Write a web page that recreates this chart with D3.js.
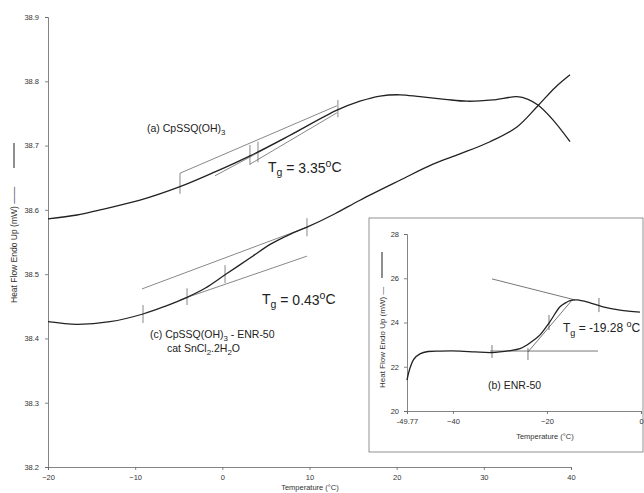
<!DOCTYPE html>
<html>
<head>
<meta charset="utf-8">
<script src="https://cdn.jsdelivr.net/npm/d3@7"></script>
<style>
  body { margin: 0; background: #fff; }
  svg { font-family: "Liberation Sans", Arial, sans-serif; }
  .axis path, .axis line { stroke: #666; stroke-width: 0.8; }
  .axis text { font-size: 7.5px; fill: #333; }
</style>
</head>
<body>
<div id="chart"></div>
<script>
// main chart ticks
const mainXTicks = [-20, -10, 0, 10, 20, 30, 40]
const mainYTicks = [38.2, 38.3, 38.4, 38.5, 38.6, 38.7, 38.8, 38.9]

// (a) CpSSQ(OH)3 trace
const curveA_T = [-20, -16.67, -14.03, -9.45, -4.86, -0.84, 3.17, 7.76, 13.15, 15.79, 18.09, 20.38, 22.68, 25.54, 28.07, 31.05, 33.80, 35.07, 36.21, 37.93, 39.89]
const curveA_V = [38.586, 38.592, 38.600, 38.615, 38.636, 38.659, 38.684, 38.716, 38.755, 38.769, 38.777, 38.779, 38.776, 38.772, 38.769, 38.771, 38.776, 38.772, 38.763, 38.740, 38.706]

// (c) CpSSQ(OH)3 - ENR-50 trace
const curveC_T = [-20, -16.67, -12.89, -9.10, -6.58, -4.05, -1.99, 0.31, 3.17, 5.58, 7.76, 9.71, 12.92, 15.79, 20.38, 24.17, 27.26, 30.71, 33.80, 36.21, 38.16, 39.89]
const curveC_V = [38.426, 38.422, 38.426, 38.438, 38.450, 38.464, 38.478, 38.499, 38.525, 38.547, 38.562, 38.573, 38.594, 38.615, 38.646, 38.671, 38.687, 38.706, 38.729, 38.762, 38.790, 38.810]

// construction lines [T1, V1, T2, V2]
const tangentsA = [[-4.86, 38.657, 13.15, 38.762], [-0.84, 38.653, 8.91, 38.724], [3.17, 38.671, 13.15, 38.751]]
const ticksA = [[-4.86, 38.657, -4.86, 38.625], [3.17, 38.701, 3.17, 38.670], [4.09, 38.706, 4.09, 38.674], [13.26, 38.771, 13.26, 38.744]]
const tangentsC = [[-9.22, 38.477, 9.71, 38.573], [-4.86, 38.460, 9.71, 38.528]]
const ticksC = [[-9.10, 38.452, -9.10, 38.424], [-4.05, 38.478, -4.05, 38.452], [0.31, 38.514, 0.31, 38.486], [9.71, 38.587, 9.71, 38.559]]

// inset (b) ENR-50
const insetXTicks = [-49.77, -40, -20, 0]
const insetYTicks = [20, 22, 24, 26, 28]
const curveB_T = [-49.77, -49.13, -48.28, -47.01, -45.30, -42.75, -38.50, -35.31, -31.69, -27.86, -25.74, -24.25, -22.76, -21.48, -19.36, -17.23, -15.95, -15.10, -13.61, -10.85, -8.09, -4.47, -0.22]
const curveB_V = [21.40, 21.94, 22.35, 22.58, 22.69, 22.71, 22.71, 22.67, 22.64, 22.73, 22.82, 22.98, 23.21, 23.44, 24.04, 24.71, 24.90, 24.99, 25.02, 24.89, 24.71, 24.56, 24.47]
const tangentsB = [[-31.69, 25.97, -14.04, 25.02], [-32.12, 22.71, -9.15, 22.71], [-24.04, 22.67, -14.47, 25.06]]
const ticksB = [[-31.69, 22.98, -31.69, 22.40], [-24.04, 22.85, -24.04, 22.31], [-19.57, 24.34, -19.57, 23.66], [-8.94, 25.11, -8.94, 24.47]]

const W = 644, H = 493
const svg = d3.select("#chart").append("svg")
  .attr("width", W).attr("height", H)

// ---------- main chart ----------
const x = d3.scaleLinear().domain([-20, 40]).range([48, 571])
const y = d3.scaleLinear().domain([38.2, 38.9]).range([467, 17])

svg.append("g").attr("class", "axis")
  .attr("transform", "translate(0,467)")
  .call(d3.axisBottom(x).tickValues(mainXTicks).tickSize(3).tickPadding(5).tickFormat(d3.format("d")))
svg.append("g").attr("class", "axis")
  .attr("transform", "translate(48,0)")
  .call(d3.axisLeft(y).tickValues(mainYTicks).tickSize(3).tickPadding(6).tickFormat(d3.format(".1f")))
svg.selectAll(".axis .domain").attr("stroke", "#666")

svg.append("text").attr("x", 310).attr("y", 490)
  .attr("text-anchor", "middle").style("font-size", "7.5px").style("fill", "#333")
  .text("Temperature (°C)")
svg.append("text").attr("transform", "translate(17,303) rotate(-90)")
  .attr("text-anchor", "start").style("font-size", "8.5px").style("fill", "#333")
  .text("Heat Flow Endo Up (mW) ——")
svg.append("line").attr("x1", 14).attr("x2", 14).attr("y1", 143).attr("y2", 168)
  .attr("stroke", "#444").attr("stroke-width", 1.2)

const lineMain = d3.line().x(d => x(d[0])).y(d => y(d[1])).curve(d3.curveCatmullRom)

function drawSegs(g, segs, sx, sy, color, w) {
  g.selectAll(null).data(segs).enter().append("line")
    .attr("x1", d => sx(d[0])).attr("y1", d => sy(d[1]))
    .attr("x2", d => sx(d[2])).attr("y2", d => sy(d[3]))
    .attr("stroke", color).attr("stroke-width", w)
}

drawSegs(svg, tangentsA, x, y, "#555", 0.7)
drawSegs(svg, tangentsC, x, y, "#555", 0.7)
drawSegs(svg, ticksA, x, y, "#555", 0.7)
drawSegs(svg, ticksC, x, y, "#555", 0.7)

svg.append("path").datum(d3.zip(curveA_T, curveA_V))
  .attr("d", lineMain).attr("fill", "none").attr("stroke", "#222").attr("stroke-width", 1.3)
svg.append("path").datum(d3.zip(curveC_T, curveC_V))
  .attr("d", lineMain).attr("fill", "none").attr("stroke", "#222").attr("stroke-width", 1.3)

// labels with sub/superscripts
function label(g, xPos, yPos, parts, size) {
  const t = g.append("text").attr("x", xPos).attr("y", yPos)
    .style("font-size", size + "px").style("fill", "#222")
  parts.forEach(p => {
    const s = t.append("tspan").text(p[0])
    if (p[1] === "sub") s.attr("dy", size * 0.3).style("font-size", (size * 0.75) + "px")
    else if (p[1] === "sup") s.attr("dy", -size * 0.4).style("font-size", (size * 0.75) + "px")
    if (p[2]) s.attr("dy", p[2])
  })
  return t
}
label(svg, 147, 132, [["(a) CpSSQ(OH)"], ["3", "sub"]], 10.5)
label(svg, 268, 172, [["T"], ["g", "sub"], [" = 3.35", null, -3.5], ["o", "sup"], ["C", null, 4.4]], 14)
label(svg, 262, 304, [["T"], ["g", "sub"], [" = 0.43", null, -3.5], ["o", "sup"], ["C", null, 4.4]], 14)
label(svg, 150, 338, [["(c) CpSSQ(OH)"], ["3", "sub"], [" - ENR-50", null, -3]], 10.5)
label(svg, 167, 352, [["cat SnCl"], ["2", "sub"], [".2H", null, -3], ["2", "sub"], ["O", null, -3]], 10.5)

// ---------- inset ----------
svg.append("rect").attr("x", 369).attr("y", 218).attr("width", 274).attr("height", 234)
  .attr("fill", "#fff").attr("stroke", "#777").attr("stroke-width", 0.8)

const xi = d3.scaleLinear().domain([-49.77, 0]).range([407, 641])
const yi = d3.scaleLinear().domain([20, 28]).range([411, 234])

svg.append("g").attr("class", "axis")
  .attr("transform", "translate(0,411)")
  .call(d3.axisBottom(xi).tickValues(insetXTicks).tickSize(3).tickPadding(5)
    .tickFormat(d => d === -49.77 ? "-49.77" : d3.format("d")(d)))
svg.append("g").attr("class", "axis")
  .attr("transform", "translate(407,0)")
  .call(d3.axisLeft(yi).tickValues(insetYTicks).tickSize(3).tickPadding(5).tickFormat(d3.format("d")))

svg.append("text").attr("x", 545).attr("y", 439)
  .attr("text-anchor", "middle").style("font-size", "7.5px").style("fill", "#333")
  .text("Temperature (°C)")
svg.append("text").attr("transform", "translate(385,388) rotate(-90)")
  .attr("text-anchor", "start").style("font-size", "8px").style("fill", "#333")
  .text("Heat Flow Endo Up (mW) —")
svg.append("line").attr("x1", 382).attr("x2", 382).attr("y1", 252).attr("y2", 278)
  .attr("stroke", "#444").attr("stroke-width", 1.2)

drawSegs(svg, tangentsB, xi, yi, "#555", 0.8)
drawSegs(svg, ticksB, xi, yi, "#555", 0.8)

const lineInset = d3.line().x(d => xi(d[0])).y(d => yi(d[1])).curve(d3.curveCatmullRom)
svg.append("path").datum(d3.zip(curveB_T, curveB_V))
  .attr("d", lineInset).attr("fill", "none").attr("stroke", "#222").attr("stroke-width", 1.3)

label(svg, 563, 332, [["T"], ["g", "sub"], [" = -19.28 ", null, -3.5], ["o", "sup"], ["C", null, 4.4]], 12)
label(svg, 488, 389, [["(b) ENR-50"]], 10.5)
</script>
</body>
</html>
